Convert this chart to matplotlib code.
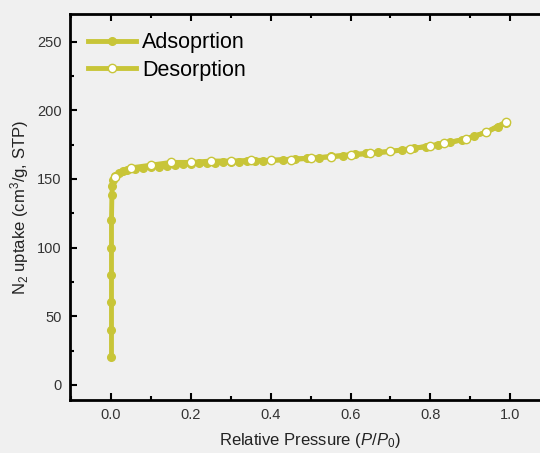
import numpy as np
import matplotlib
matplotlib.use('Agg')
import matplotlib.pyplot as plt
from matplotlib.ticker import MultipleLocator

plt.rcParams['font.family'] = ['Liberation Sans', 'DejaVu Sans']
plt.rcParams['mathtext.fontset'] = 'custom'
plt.rcParams['mathtext.rm'] = 'Liberation Sans'
plt.rcParams['mathtext.it'] = 'Liberation Sans:italic'

# adsorption branch (filled markers)
ads_p = [0.001, 0.001, 0.001, 0.001, 0.001, 0.001, 0.002, 0.003, 0.005, 0.01,
         0.02, 0.03, 0.04, 0.06, 0.08, 0.10, 0.12, 0.14, 0.16, 0.18, 0.20,
         0.22, 0.24, 0.26, 0.28, 0.30, 0.32, 0.34, 0.36, 0.38, 0.40, 0.43,
         0.46, 0.49, 0.52, 0.55, 0.58, 0.61, 0.64, 0.67, 0.70, 0.73, 0.76,
         0.79, 0.82, 0.85, 0.88, 0.91, 0.94, 0.97, 0.99]
ads_v = [20, 40, 60, 80, 100, 120, 138, 145, 149, 152,
         154.5, 155.5, 156.5, 157.5, 158, 158.5, 159, 159.5, 160, 160.5, 161,
         161.2, 161.5, 161.8, 162, 162.2, 162.5, 162.8, 163, 163.2, 163.5, 164,
         164.5, 165, 165.5, 166.3, 167, 167.8, 168.5, 169.3, 170, 171, 172.3,
         173.5, 175, 176.5, 178.5, 181, 184, 188, 191]

# desorption branch (open markers)
des_p = [0.99, 0.94, 0.89, 0.835, 0.80, 0.75, 0.70, 0.65, 0.60, 0.55, 0.50,
         0.45, 0.40, 0.35, 0.30, 0.25, 0.20, 0.15, 0.10, 0.05, 0.01]
des_v = [191.5, 184, 179, 176, 174, 172, 170, 168.5, 167.5, 166, 165,
         164, 163.5, 163.5, 163, 163, 162, 162, 160, 158, 151.5]

color = '#c8c538'
bg = '#f0f0f0'

fig = plt.figure(figsize=(5.4, 4.53), dpi=100, facecolor=bg)
ax = fig.add_axes([0.1296, 0.117, 0.889, 0.852], facecolor=bg)

ax.plot(ads_p, ads_v, '-o', color=color, lw=3.5, ms=5.5,
        mfc=color, mec=color, label='Adsoprtion')
ax.plot(des_p, des_v, '-o', color=color, lw=3.5, ms=6,
        mfc='white', mec=color, mew=1, label='Desorption')

ax.set_xlim(-0.103, 1.1)
ax.set_ylim(-11, 270)
ax.xaxis.set_minor_locator(MultipleLocator(0.1))
ax.yaxis.set_minor_locator(MultipleLocator(25))
ax.set_xticks([0.0, 0.2, 0.4, 0.6, 0.8, 1.0])
ax.set_yticks([0, 50, 100, 150, 200, 250])

ax.tick_params(which='both', direction='in', top=True, right=False,
               width=1.5, colors='black', labelcolor='#333333', labelsize=10.5)
ax.tick_params(which='major', length=5, pad=6)
ax.tick_params(which='minor', length=3)
for s in ax.spines.values():
    s.set_linewidth(2)

ax.set_xlabel(r'Relative Pressure ($\mathit{P/P_0}$)', fontsize=12, color='#222222', labelpad=6)
ax.set_ylabel(r'N$_2$ uptake (cm$^3$/g, STP)', fontsize=12, color='#222222')

ax.legend(loc='upper left', frameon=False, fontsize=15.5, handlelength=2.2,
          handletextpad=0.3, borderaxespad=0.45, labelspacing=0.3)

fig.savefig('out.png', dpi=100, facecolor=bg)
